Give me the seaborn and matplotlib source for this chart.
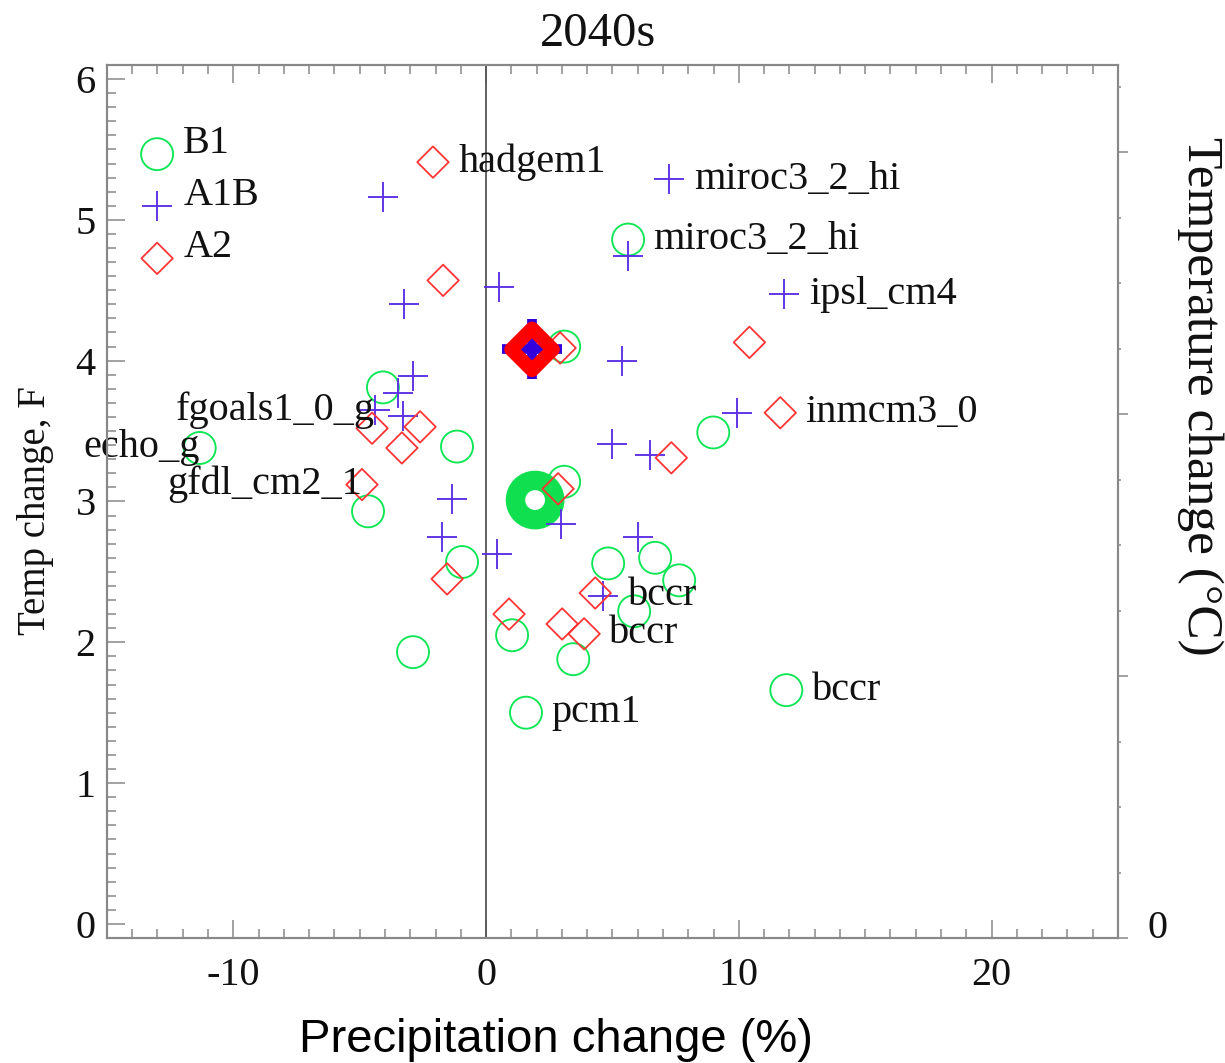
import numpy as np
import pandas as pd
import seaborn as sns
import matplotlib.pyplot as plt
import matplotlib.ticker as mtick
from matplotlib.transforms import ScaledTranslation

# Precipitation change (%) and temperature change (F) per model, 2040s
b1_precip = [-11.33, -4.08, -4.67, -1.15, -2.89, -0.95, 1.03, 1.58, 3.45, 4.83,
             6.69, 7.64, 5.86, 11.88, 5.62, 8.99, 3.09, 3.09]
b1_temp = [3.38, 3.81, 2.93, 3.39, 1.93, 2.57, 2.05, 1.50, 1.88, 2.56,
           2.60, 2.44, 2.22, 1.66, 4.86, 3.49, 4.10, 3.14]

a1b_precip = [-4.08, -3.25, 0.51, 5.62, 7.25, 11.80, 5.39, 9.94, 4.99, 6.50,
              -2.89, -3.49, -3.29, -4.40, -1.35, -1.74, 0.44, 2.97, 6.02, 4.63]
a1b_temp = [5.16, 4.40, 4.52, 4.74, 5.29, 4.47, 4.00, 3.63, 3.41, 3.33,
            3.89, 3.77, 3.61, 3.65, 3.02, 2.75, 2.63, 2.84, 2.75, 2.33]

a2_precip = [-2.10, -1.70, 10.42, 11.64, 7.33, 2.93, -4.51, -2.61, -3.33, -4.91,
             -1.54, 0.91, 3.01, 3.88, 4.32, 2.85]
a2_temp = [5.41, 4.57, 4.13, 3.63, 3.31, 4.09, 3.52, 3.53, 3.38, 3.12,
           2.45, 2.20, 2.13, 2.06, 2.35, 3.09]

# Ensemble means
mean_scenarios = ['B1', 'A1B', 'A2']
mean_precip = [1.94, 1.82, 1.82]
mean_temp = [3.01, 4.08, 4.08]

# Model names written next to some points: (name, scenario, index, side)
model_labels = [
    ('hadgem1', 'A2', 0, 'right'),
    ('miroc3_2_hi', 'A1B', 4, 'right'),
    ('miroc3_2_hi', 'B1', 14, 'right'),
    ('ipsl_cm4', 'A1B', 5, 'right'),
    ('inmcm3_0', 'A2', 3, 'right'),
    ('fgoals1_0_g', 'A1B', 13, 'left'),
    ('echo_g', 'B1', 0, 'left'),
    ('gfdl_cm2_1', 'A2', 9, 'left'),
    ('bccr', 'A1B', 19, 'right'),
    ('bccr', 'A2', 13, 'right'),
    ('bccr', 'B1', 13, 'right'),
    ('pcm1', 'B1', 7, 'right'),
]

scen_data = {
    'B1': pd.DataFrame({'precip': b1_precip, 'temp': b1_temp}),
    'A1B': pd.DataFrame({'precip': a1b_precip, 'temp': a1b_temp}),
    'A2': pd.DataFrame({'precip': a2_precip, 'temp': a2_temp}),
}
means_df = pd.DataFrame({'scenario': mean_scenarios, 'precip': mean_precip, 'temp': mean_temp})

green = '#0ee656'
blue = '#5a2ee6'
red = '#ff3535'

sns.set_style('ticks')
plt.rcParams['font.family'] = ['Liberation Serif', 'DejaVu Serif']
plt.rcParams['axes.unicode_minus'] = False

fig = plt.figure(figsize=(12.25, 10.63), dpi=100)
ax = fig.add_axes([0.0873, 0.1176, 0.8253, 0.8213])

ax.axvline(0, color='#555555', lw=1.3, zorder=1)

# B1: open circles
sns.scatterplot(data=scen_data['B1'], x='precip', y='temp', marker='o', s=530,
                color=green, facecolor='none', edgecolor=green, linewidth=1.35,
                label='B1', ax=ax, zorder=3)
m = means_df[means_df.scenario == 'B1']
sns.scatterplot(data=m, x='precip', y='temp', marker='o', s=800,
                color=green, facecolor='none', edgecolor='#10e050', linewidth=14,
                legend=False, ax=ax, zorder=3)

# A1B: plus signs
sns.scatterplot(data=scen_data['A1B'], x='precip', y='temp', marker='+', s=470,
                color=blue, linewidth=1.35, label='A1B', ax=ax, zorder=4)
m = means_df[means_df.scenario == 'A1B']
sns.scatterplot(data=m, x='precip', y='temp', marker='+', s=1850,
                color='#3300dd', linewidth=7, legend=False, ax=ax, zorder=4)

# A2: open diamonds
sns.scatterplot(data=scen_data['A2'], x='precip', y='temp', marker='D', s=256,
                color=red, facecolor='none', edgecolor=red, linewidth=1.3,
                label='A2', ax=ax, zorder=5)
m = means_df[means_df.scenario == 'A2']
sns.scatterplot(data=m, x='precip', y='temp', marker='D', s=450,
                color='red', facecolor='none', edgecolor='#ff0000', linewidth=10,
                legend=False, ax=ax, zorder=5)

# model names
for name, scen, idx, side in model_labels:
    px = scen_data[scen]['precip'][idx]
    py = scen_data[scen]['temp'][idx]
    if side == 'right':
        ax.text(px + 1.0, py, name, ha='left', va='center', fontsize=29,
                color='#111111', zorder=6, clip_on=False)
    else:
        ax.text(px, py, name, ha='right', va='center', fontsize=29,
                color='#111111', zorder=6, clip_on=False)

ax.set_xlim(-15, 25)
ax.set_ylim(-0.1, 6.1)
ax.xaxis.set_major_locator(mtick.MultipleLocator(10))
ax.xaxis.set_minor_locator(mtick.MultipleLocator(1))
ax.yaxis.set_major_locator(mtick.MultipleLocator(1))
ax.yaxis.set_minor_locator(mtick.MultipleLocator(0.1))
ax.tick_params(which='both', direction='in', top=True, right=False,
               color='#888888', width=1.1, labelsize=29, labelcolor='#111111')
ax.tick_params(which='major', length=13)
ax.tick_params(which='minor', length=6.5)
ax.tick_params(axis='x', which='major', pad=14)
ax.tick_params(axis='y', which='major', pad=8)

for sp in ax.spines.values():
    sp.set_color('#888888')
    sp.set_linewidth(1.5)
    sp.set_visible(True)

ax.set_title('2040s', fontsize=35, pad=14, x=0.486, color='#111111')
ax.set_xlabel('Precipitation change (%)', fontsize=34, color='black',
              family=['Liberation Sans', 'DejaVu Sans'])
ax.xaxis.set_label_coords(0.444, -0.117)
ax.xaxis.label.set_va('center')
ax.set_ylabel('Temp change, F', fontsize=28, color='#111111')
ax.yaxis.set_label_coords(-0.071, 0.49)
ax.yaxis.label.set_va('center')

# Right axis in degrees C
ax2 = ax.twinx()
ax2.set_ylim(0, 6 / 1.8)
ax2.yaxis.set_major_locator(mtick.MultipleLocator(1))
ax2.yaxis.set_minor_locator(mtick.MultipleLocator(0.25))
ax2.yaxis.set_major_formatter(mtick.FuncFormatter(lambda v, pos: '0' if abs(v) < 1e-9 else ''))
ax2.tick_params(which='both', direction='out', color='#888888', width=1.1,
                labelsize=29, pad=14, labelcolor='#111111')
ax2.tick_params(which='major', length=7)
ax2.tick_params(which='minor', length=2.5)
for sp in ax2.spines.values():
    sp.set_color('#888888')
    sp.set_linewidth(1.5)
ax2.set_ylabel('Temperature change (°C)', fontsize=37, rotation=270, color='#111111')
ax2.yaxis.set_label_coords(1.081, 0.62)
ax2.yaxis.label.set_va('center')
for lab in ax2.get_yticklabels():
    lab.set_transform(lab.get_transform() + ScaledTranslation(0, 0.14, fig.dpi_scale_trans))

leg = ax.legend(loc='upper left', bbox_to_anchor=(0.0297, 0.918), frameon=False,
                fontsize=29, handlelength=1.0, handletextpad=0.15, labelspacing=0.37,
                borderpad=0, borderaxespad=0)
for t in leg.get_texts():
    t.set_color('#111111')
    t.set_transform(t.get_transform() + ScaledTranslation(0, 0.12, fig.dpi_scale_trans))

fig.savefig('out.png', dpi=100)
